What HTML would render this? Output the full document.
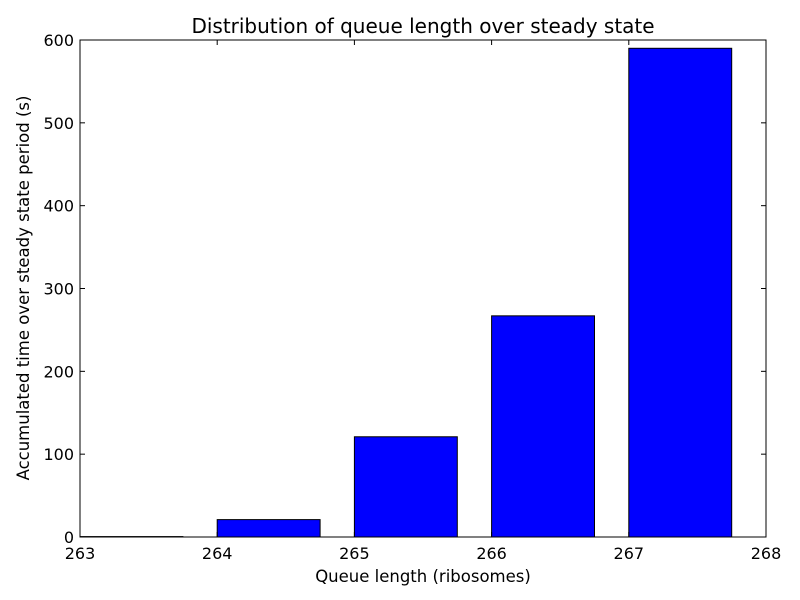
<!DOCTYPE html>
<html><head><meta charset="utf-8"><style>
body{margin:0;background:#fff;}
svg{display:block;font-family:"DejaVu Sans","Liberation Sans",sans-serif;}
</style></head><body>
<svg id="chart" width="800" height="600" viewBox="0 0 800 600" xmlns="http://www.w3.org/2000/svg"></svg>
<script>
const categories = [263, 264, 265, 266, 267];
const values = [0.5, 21, 121, 267, 590];
const xTicks = [263, 264, 265, 266, 267, 268];
const yTicks = [0, 100, 200, 300, 400, 500, 600];

const L = 80, R = 766, T = 40, B = 537;
const xMin = 263, xMax = 268, yMin = 0, yMax = 600;
const xs = v => L + (v - xMin) / (xMax - xMin) * (R - L);
const ys = v => B - (v - yMin) / (yMax - yMin) * (B - T);
const NS = "http://www.w3.org/2000/svg";
const svg = document.getElementById("chart");
function mk(tag, attrs, parent) {
  const e = document.createElementNS(NS, tag);
  for (const k in attrs) e.setAttribute(k, attrs[k]);
  (parent || svg).appendChild(e);
  return e;
}
const bars = mk("g", {});


categories.forEach((c, i) => {
  const x0 = xs(c), x1 = xs(c + 0.75), y0 = ys(values[i]);
  const r = mk("rect", {x: x0, y: y0, width: x1 - x0, height: B - y0, fill: "#0000ff", stroke: "#000", "stroke-width": 1}, bars);
  
  
});
const frame = mk("rect", {x: L, y: T, width: R - L, height: B - T, fill: "none", stroke: "#000", "stroke-width": 1});


xTicks.forEach(t => {
  const x = xs(t);
  mk("line", {x1: x, y1: B, x2: x, y2: B - 5, stroke: "#000"});
  mk("line", {x1: x, y1: T, x2: x, y2: T + 5, stroke: "#000"});
  const tx = mk("text", {x: x, y: B + 22, "text-anchor": "middle", "font-size": 16}); tx.textContent = t;
  
  
});
yTicks.forEach(t => {
  const y = ys(t);
  mk("line", {x1: L, y1: y, x2: L + 5, y2: y, stroke: "#000"});
  mk("line", {x1: R, y1: y, x2: R - 5, y2: y, stroke: "#000"});
  const ty = mk("text", {x: L - 6, y: y + 6, "text-anchor": "end", "font-size": 16}); ty.textContent = t;
  
  
});
const title = mk("text", {x: 423, y: 33, "text-anchor": "middle", "font-size": 20}); title.textContent = "Distribution of queue length over steady state";


const xl = mk("text", {x: 423, y: 582, "text-anchor": "middle", "font-size": 16.5}); xl.textContent = "Queue length (ribosomes)";


const yl = mk("text", {x: 0, y: 0, "text-anchor": "middle", "font-size": 16.5, transform: "translate(29,288) rotate(-90)"}); yl.textContent = "Accumulated time over steady state period (s)";


</script>
</body></html>
